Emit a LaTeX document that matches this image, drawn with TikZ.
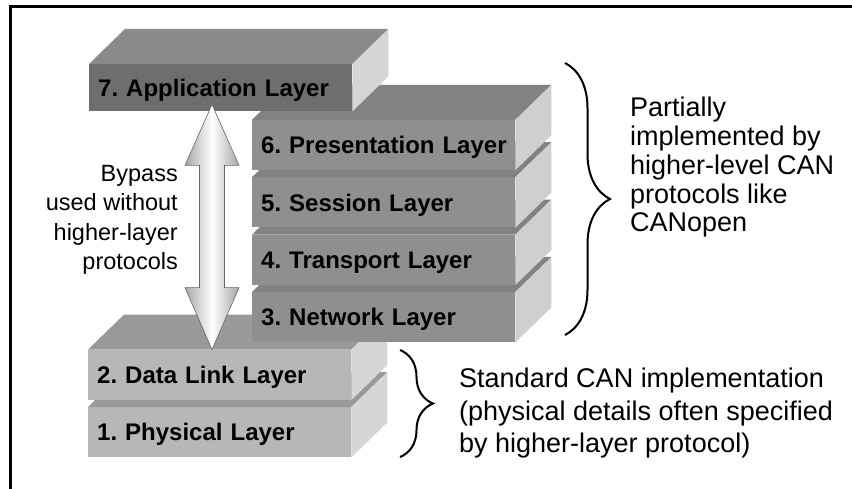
\documentclass[tikz,border=0pt]{standalone}
\usepackage{fontspec}
\setmainfont{Liberation Sans}
\usepackage{xcolor}
\usepackage{tikz}
\usetikzlibrary{positioning,calc,decorations.pathreplacing}

\definecolor{appFront}{HTML}{6E6E6E}
\definecolor{appTop}{HTML}{8A8A8A}
\definecolor{appSide}{HTML}{D5D5D5}
\definecolor{midFront}{HTML}{8F8F8F}
\definecolor{midTop}{HTML}{828282}
\definecolor{midSide}{HTML}{CFCFCF}
\definecolor{lowFront}{HTML}{B7B7B7}
\definecolor{lowTop}{HTML}{999999}
\definecolor{lowSide}{HTML}{D6D6D6}

% top and side face of one layer slab
\newcommand{\slabfaces}[3]{%
  \fill[#2] (#1.north west) -- ++(36,-35) -- ($(#1.north east)+(36,-35)$) -- (#1.north east) -- cycle;
  \fill[#3] (#1.north east) -- ++(36,-35) -- ($(#1.south east)+(36,-35)$) -- (#1.south east) -- cycle;
}

\begin{document}
\frenchspacing
\begin{tikzpicture}[
  x=1pt, y=-1pt, node distance=7pt,
  slab/.style={rectangle,anchor=north west,minimum height=50pt,text width=245pt,inner xsep=9pt,inner ysep=0pt,
    align=left,text height=17.5pt,text depth=0pt,font=\fontsize{24}{28}\selectfont\bfseries},
  note/.style={align=left,inner sep=0pt,font=\fontsize{27}{28.75}\selectfont},
  brc/.style={decorate,decoration={brace,amplitude=#1},line width=2pt},
  bypass/.style={draw=black!60,line width=0.6pt,left color=black!35,right color=black!35,middle color=white}
]
\useasboundingbox (0,0) rectangle (852,489);
\draw[line width=2.5pt] (852,6.7) -- (10.3,6.7) -- (10.3,489);

% layers 1-2
\node[slab,fill=lowFront] (phy) at (88,407) {1. Physical Layer};
\slabfaces{phy}{lowTop}{lowSide}
\node[slab,fill=lowFront,above=of phy] (dl) {2. Data Link Layer};
\slabfaces{dl}{lowTop}{lowSide}

% layers 3-6
\node[slab,fill=midFront] (net) at (252,292) {3. Network Layer};
\slabfaces{net}{midTop}{midSide}
\node[slab,fill=midFront,above=of net] (tra) {4. Transport Layer};
\slabfaces{tra}{midTop}{midSide}
\node[slab,fill=midFront,above=of tra] (ses) {5. Session Layer};
\slabfaces{ses}{midTop}{midSide}
\node[slab,fill=midFront,above=of ses] (pre) {\mbox{6. Presentation Layer}};
\slabfaces{pre}{midTop}{midSide}

% layer 7
\node[slab,fill=appFront,minimum height=47pt] (app) at (89,64) {7. Application Layer};
\slabfaces{app}{appTop}{appSide}

% bypass arrow
\coordinate (bpTop) at ($(app.south west)+(123,-7)$);
\coordinate (bpBot) at ($(dl.north west)+(124,0)$);
\draw[bypass] (bpTop) -- ++(27,61) -- ++(-14.5,0) -- ($(bpBot)+(12.5,-62)$) -- ++(14.5,0)
  -- (bpBot) -- ++(-27,-62) -- ++(14.5,0) -- ($(bpTop)+(-12.5,61)$) -- ++(-14.5,0) -- cycle;
\node[note,align=right,anchor=east,font=\fontsize{23.5}{29.3}\selectfont] (bytxt) at (178,220)
  {Bypass\\used without\\higher-layer\\protocols};

% braces and notes
\coordinate (upA) at (565,63);
\coordinate (upB) at (565,335);
\draw[brc=45pt] (upA) -- (upB);
\node[note,anchor=west] (hltxt) at (630,167.5)
  {Partially\\implemented by\\higher-level CAN\\protocols like\\CANopen};
\coordinate (loA) at (400,350);
\coordinate (loB) at (400,457);
\draw[brc=33pt] (loA) -- (loB);
\node[note,anchor=west,font=\fontsize{27}{32.5}\selectfont] (stdtxt) at (459,413.5)
  {Standard CAN implementation\\(physical details often specified\\by higher-layer protocol)};
\end{tikzpicture}
\end{document}
